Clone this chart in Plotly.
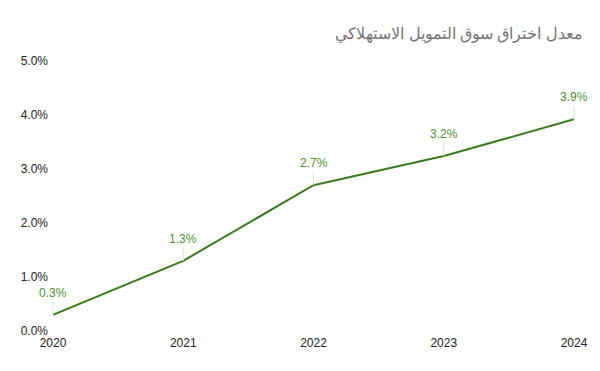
import plotly.graph_objects as go

years = [2020, 2021, 2022, 2023, 2024]
rates = [0.3, 1.3, 2.7, 3.24, 3.92]
labels = ["0.3%", "1.3%", "2.7%", "3.2%", "3.9%"]
title_text = "معدل اختراق سوق التمويل الاستهلاكي"

fig = go.Figure()
fig.add_trace(go.Scatter(x=years, y=rates, mode="lines",
                         line=dict(color="#3b7a1e", width=2), hoverinfo="skip"))

for x, y, t in zip(years, rates, labels):
    fig.add_annotation(x=x, y=y, text=t, showarrow=True, ax=0, ay=-22,
                       arrowhead=0, arrowwidth=1, arrowcolor="#e0e0e0",
                       font=dict(color="#4e8f30", size=12, family="Liberation Sans, Arial"))

fig.update_layout(
    width=592, height=363,
    margin=dict(l=45, r=20, t=53, b=40),
    paper_bgcolor="white", plot_bgcolor="white",
    showlegend=False,
    title=dict(text=title_text, x=0.971, xanchor="right", y=0.931, yanchor="middle",
               font=dict(size=15.7, color="#757575", family="Liberation Sans, Arial")),
    font=dict(family="Liberation Sans, Arial", size=12, color="#222222"),
    xaxis=dict(range=[2020, 2024], tickvals=years, ticktext=[str(y) for y in years],
               showgrid=False, zeroline=False, showline=False, ticks="",
               ticklabelstandoff=3),
    yaxis=dict(range=[0, 5], tickvals=[0, 1, 2, 3, 4, 5],
               ticktext=["0.0%", "1.0%", "2.0%", "3.0%", "4.0%", "5.0%"],
               showgrid=False, zeroline=False, showline=False, ticks="", ticklabelstandoff=4),
)

fig.write_html("out.html")
